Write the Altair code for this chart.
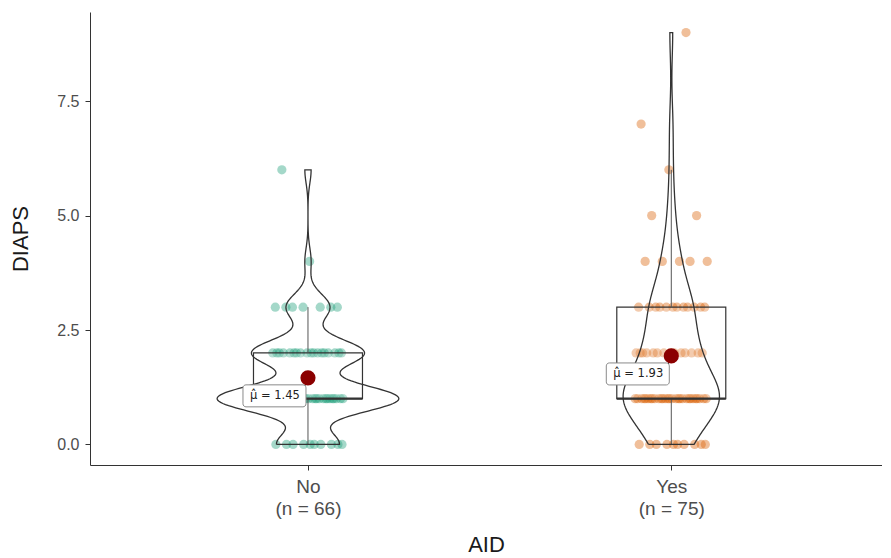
import altair as alt
import numpy as np
import pandas as pd

# ---------------- data ----------------
GROUPS = ["No", "Yes"]
NO_VALUES = [0, 1, 2, 3, 4, 6]
NO_COUNTS = [10, 29, 18, 7, 1, 1]
YES_VALUES = [0, 1, 2, 3, 4, 5, 6, 7, 9]
YES_COUNTS = [10, 29, 14, 12, 5, 2, 1, 1, 1]
GROUP_COLORS = ["#1B9E77", "#D95F02"]
Y_TICKS = [0, 2.5, 5.0, 7.5]
Y_TITLE = "DIAPS"
X_TITLE = "AID"

samples = {
    "No": np.repeat(NO_VALUES, NO_COUNTS).astype(float),
    "Yes": np.repeat(YES_VALUES, YES_COUNTS).astype(float),
}

# raw points
pts = pd.DataFrame(
    [{"group": g, "gpos": gi + 1, "DIAPS": v}
     for gi, g in enumerate(GROUPS) for v in samples[g]]
)

# violin (gaussian KDE, bw.nrd0, trimmed to data range, scale = area)
def nrd0(x):
    sd = np.std(x, ddof=1)
    q75, q25 = np.percentile(x, [75, 25])
    return 0.9 * min(sd, (q75 - q25) / 1.34) * len(x) ** -0.2

dens = {}
for g in GROUPS:
    x = samples[g]
    bw = nrd0(x)
    grid = np.linspace(x.min(), x.max(), 256)
    d = np.exp(-0.5 * ((grid[:, None] - x[None, :]) / bw) ** 2).sum(axis=1) / (
        len(x) * bw * np.sqrt(2 * np.pi))
    dens[g] = (grid, d)
dmax = max(d.max() for _, d in dens.values())
VIOLIN_WIDTH = 0.5
vrows = []
for gi, g in enumerate(GROUPS):
    grid, d = dens[g]
    hw = VIOLIN_WIDTH / 2 * d / dmax
    left = [(gi + 1 - h, yv) for yv, h in zip(grid, hw)]
    right = [(gi + 1 + h, yv) for yv, h in zip(grid, hw)][::-1]
    poly = left + right + [left[0]]
    for k, (xv, yv) in enumerate(poly):
        vrows.append({"group": g, "k": k, "vx": xv, "vy": yv})
violin = pd.DataFrame(vrows)

# boxplot stats
BOX_WIDTH = 0.3
box_rows = []
for gi, g in enumerate(GROUPS):
    x = samples[g]
    q1, med, q3 = np.percentile(x, [25, 50, 75])
    iqr = q3 - q1
    lo = x[x >= q1 - 1.5 * iqr].min()
    hi = x[x <= q3 + 1.5 * iqr].max()
    box_rows.append({"group": g, "gpos": gi + 1, "q1": q1, "med": med, "q3": q3,
                     "lo": lo, "hi": hi,
                     "xl": gi + 1 - BOX_WIDTH / 2, "xr": gi + 1 + BOX_WIDTH / 2})
box = pd.DataFrame(box_rows)

means = pd.DataFrame(
    [{"group": g, "gpos": gi + 1, "mean": samples[g].mean(),
      "label": "\u03bc\u0302 = %.2f" % samples[g].mean()}
     for gi, g in enumerate(GROUPS)]
)

label_expr = " : ".join(
    "datum.value == %d ? ['%s', '(n = %d)']" % (gi + 1, g, len(samples[g]))
    for gi, g in enumerate(GROUPS)
) + " : ''"

# ---------------- chart ----------------
FONT = "Liberation Sans"
LINE = "#333333"
X_SCALE = alt.Scale(domain=[0.4, 2.58], nice=False, zero=False)
Y_SCALE = alt.Scale(domain=[-0.45, 9.45], nice=False, zero=False)
X_AXIS = alt.Axis(values=[1, 2], labelExpr=label_expr, title=X_TITLE,
                  grid=False, tickSize=5, labelPadding=7, titlePadding=16,
                  labelFontSize=19, titleFontSize=22, labelColor="#4D4D4D",
                  titleColor="#1a1a1a", domainColor=LINE, tickColor=LINE,
                  labelLineHeight=22, labelFont=FONT, titleFont=FONT,
                  titleFontWeight="normal")
Y_AXIS = alt.Axis(values=Y_TICKS, format=".1f", title=Y_TITLE, grid=False,
                  tickSize=5, labelPadding=6, titlePadding=24,
                  labelFontSize=16, titleFontSize=22, labelColor="#4D4D4D",
                  titleColor="#1a1a1a", domainColor=LINE, tickColor=LINE,
                  labelFont=FONT, titleFont=FONT, titleFontWeight="normal")


def X(field):
    return alt.X(field, scale=X_SCALE, axis=X_AXIS, title=X_TITLE)


def Y(field):
    return alt.Y(field, scale=Y_SCALE, axis=Y_AXIS, title=Y_TITLE)


points = alt.Chart(pts).transform_window(
    row="row_number()", groupby=["group"]
).transform_calculate(
    jx="datum.gpos + ((datum.row * 0.6180339887 + 0.35) % 1 - 0.5) * 0.2"
).mark_circle(size=85, opacity=0.4).encode(
    x=X("jx:Q"),
    y=Y("DIAPS:Q"),
    color=alt.Color("group:N", scale=alt.Scale(domain=GROUPS, range=GROUP_COLORS),
                    legend=None),
)

box_rect = alt.Chart(box).mark_rect(
    fill="white", fillOpacity=0.2, stroke=LINE, strokeWidth=1.2
).encode(x=X("xl:Q"), x2="xr:Q", y=Y("q1:Q"), y2="q3:Q")

whisk_hi = alt.Chart(box).mark_rule(color="#555555", strokeWidth=1).encode(
    x=X("gpos:Q"), y=Y("q3:Q"), y2="hi:Q")
whisk_lo = alt.Chart(box).mark_rule(color="#555555", strokeWidth=1).encode(
    x=X("gpos:Q"), y=Y("lo:Q"), y2="q1:Q")
median = alt.Chart(box).mark_rule(color=LINE, strokeWidth=2.4).encode(
    x=X("xl:Q"), x2="xr:Q", y=Y("med:Q"))

violins = alt.Chart(violin).mark_line(
    color=LINE, strokeWidth=1.3, interpolate="linear"
).encode(
    x=X("vx:Q"), y=Y("vy:Q"),
    detail="group:N",
    order=alt.Order("k:Q"),
)

mean_line = alt.Chart(means).mark_rule(
    color="#222222", strokeWidth=1, x2Offset=-3, y2Offset=8
).encode(x=X("gpos:Q"), x2="gpos:Q", y=Y("mean:Q"), y2="mean:Q")

mean_dot = alt.Chart(means).mark_circle(size=230, color="#8B0000", opacity=1).encode(
    x=X("gpos:Q"), y=Y("mean:Q"))

label_box = alt.Chart(means).mark_rect(
    fill="white", stroke="#8a8a8a", strokeWidth=1, cornerRadius=3,
    xOffset=-65, x2Offset=-2, yOffset=7, y2Offset=29
).encode(x=X("gpos:Q"), x2="gpos:Q", y=Y("mean:Q"), y2="mean:Q")

label_text = alt.Chart(means).mark_text(
    dx=-33, dy=18, fontSize=11.5, font="DejaVu Sans", color="#222222",
    baseline="middle", align="center"
).encode(x=X("gpos:Q"), y=Y("mean:Q"), text="label:N")

chart = alt.layer(
    points, box_rect, whisk_hi, whisk_lo, median, violins,
    mean_line, mean_dot, label_box, label_text
).properties(
    width=792, height=453,
    autosize=alt.AutoSizeParams(type="none"),
    padding={"left": 82, "top": 4, "right": 0, "bottom": 90},
    background="white",
).configure_view(stroke=None)

chart.save("out.html", embed_options={"renderer": "svg", "actions": False})
